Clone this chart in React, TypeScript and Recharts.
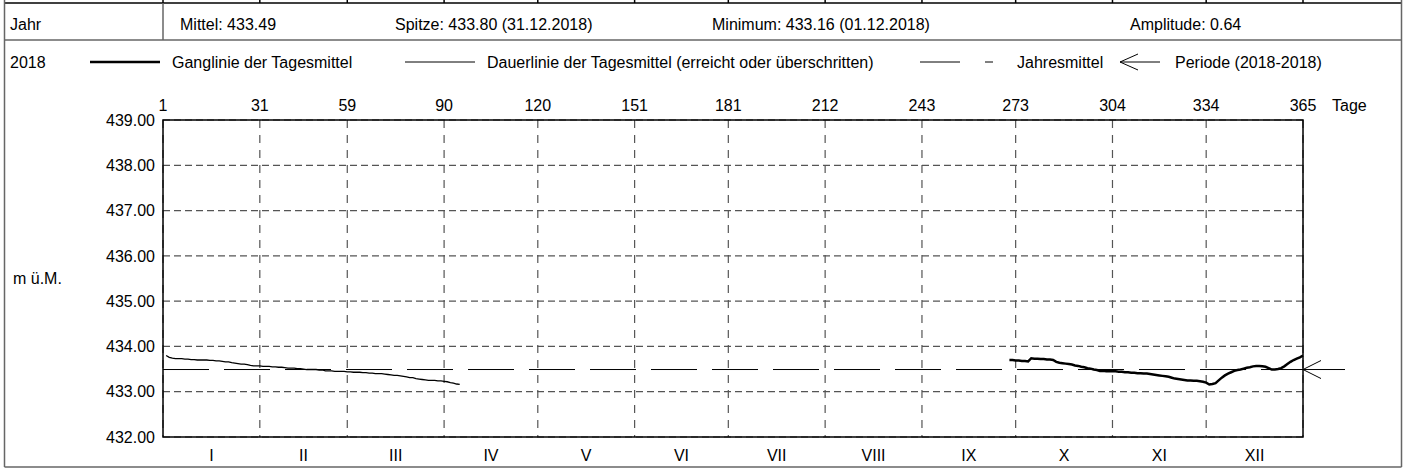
import React from 'react';
import {
  ComposedChart,
  Line,
  XAxis,
  YAxis,
  CartesianGrid,
  ReferenceLine,
  ReferenceArea,
  ReferenceDot,
  Legend,
} from 'recharts';

const FONT = '"Liberation Sans", Arial, sans-serif';

// Tagesmittel 2018 in m ü.M., ab Tag 271 (28.09.) bis Tag 365 (31.12.)
const firstDay = 271;
const tagesmittel = [
  433.70, 433.70, 433.69, 433.69, 433.68, 433.68, 433.67,
  433.74, 433.73, 433.73, 433.72, 433.72, 433.71, 433.71, 433.70,
  433.66, 433.64, 433.63, 433.62, 433.61,
  433.60, 433.58, 433.57, 433.55, 433.54,
  433.52, 433.51, 433.49, 433.48, 433.46,
  433.46, 433.45, 433.45, 433.45, 433.45,
  433.44, 433.44, 433.43, 433.43, 433.42,
  433.42, 433.41, 433.41, 433.40, 433.40,
  433.39, 433.38, 433.37, 433.36, 433.35,
  433.34, 433.33, 433.31, 433.29, 433.28,
  433.27, 433.26, 433.25, 433.25, 433.24,
  433.24, 433.23, 433.22, 433.20, 433.16,
  433.17, 433.19, 433.25, 433.31, 433.36,
  433.40, 433.43, 433.46, 433.48, 433.49,
  433.51, 433.53, 433.54, 433.56, 433.57,
  433.57, 433.56, 433.55, 433.52, 433.49,
  433.49, 433.50, 433.52, 433.56, 433.61,
  433.66, 433.70, 433.73, 433.76, 433.80,
];

const jahresmittel = 433.49;

const monthBounds = [0, 31, 59, 90, 120, 151, 181, 212, 243, 273, 304, 334, 365];
const dayLabels = ['1', '31', '59', '90', '120', '151', '181', '212', '243', '273', '304', '334', '365'];
const monthNames = ['I', 'II', 'III', 'IV', 'V', 'VI', 'VII', 'VIII', 'IX', 'X', 'XI', 'XII'];
const yTicks = [432, 433, 434, 435, 436, 437, 438, 439];

const jahr = '2018';
const statTexts = [
  'Mittel: 433.49',
  'Spitze: 433.80 (31.12.2018)',
  'Minimum: 433.16 (01.12.2018)',
  'Amplitude: 0.64',
];
const legendTexts = [
  'Ganglinie der Tagesmittel',
  'Dauerlinie der Tagesmittel (erreicht oder überschritten)',
  'Jahresmittel',
  'Periode (2018-2018)',
];

const gangData = tagesmittel.map((v, i) => ({ day: firstDay + i, value: v }));
// Dauerlinie: Tageswerte absteigend sortiert
const dauerData = [...tagesmittel]
  .sort((a, b) => b - a)
  .map((v, i) => ({ day: i + 1, value: v }));
const monthMid = monthNames.map((_, i) => (monthBounds[i] + monthBounds[i + 1]) / 2);

const tickStyle = { fill: '#000', fontSize: 16, fontFamily: FONT };

const renderLegend = () => (
  <svg width={1406} height={28} style={{ display: 'block' }}>
    <g fontFamily={FONT} fontSize={16} fill="#000">
      <text x={10} y={20}>{jahr}</text>
      <line x1={90} x2={160} y1={14} y2={14} stroke="#000" strokeWidth={2.5} />
      <text x={172} y={20}>{legendTexts[0]}</text>
      <line x1={405} x2={475} y1={14} y2={14} stroke="#000" strokeWidth={1} />
      <text x={487} y={20}>{legendTexts[1]}</text>
      <line x1={920} x2={960} y1={14} y2={14} stroke="#000" strokeWidth={1} />
      <line x1={985} x2={993} y1={14} y2={14} stroke="#000" strokeWidth={1} />
      <text x={1017} y={20}>{legendTexts[2]}</text>
      <path d="M1160,14 L1120,14 M1138,6 L1120,14 L1138,22" stroke="#000" strokeWidth={1} fill="none" />
      <text x={1175} y={20}>{legendTexts[3]}</text>
    </g>
  </svg>
);

const PeriodArrow = (p: any) => (
  <path
    d={`M${p.cx + 42},${p.cy} L${p.cx},${p.cy} M${p.cx + 18},${p.cy - 9} L${p.cx},${p.cy} L${p.cx + 18},${p.cy + 9}`}
    stroke="#000"
    strokeWidth={1}
    fill="none"
  />
);

const statX = [180, 395, 712, 1130];

export default function App() {
  return (
    <div style={{ position: 'relative', width: 1406, height: 472, fontFamily: FONT, background: '#fff' }}>
      <style>{'body{margin:0}'}</style>
      <ComposedChart width={1406} height={472} margin={{ top: 90, right: 103, bottom: 5, left: 0 }}>
        <CartesianGrid vertical={false} stroke="#555" strokeWidth={1.2} strokeDasharray="7 4" />
        <CartesianGrid horizontal={false} stroke="#555" strokeWidth={1.2} strokeDasharray="8 7" />
        <XAxis
          dataKey="day"
          type="number"
          orientation="top"
          domain={[0, 365]}
          ticks={monthBounds}
          interval={0}
          tickFormatter={(v: number) => dayLabels[monthBounds.indexOf(v)]}
          tick={tickStyle}
          tickSize={0}
          tickMargin={9}
          axisLine={false}
          height={30}
          label={{ value: 'Tage', position: 'right', offset: 29, fill: '#000', fontSize: 16, fontFamily: FONT }}
        />
        <XAxis
          xAxisId="m"
          dataKey="day"
          type="number"
          orientation="bottom"
          domain={[0, 365]}
          allowDataOverflow
          ticks={monthMid}
          interval={0}
          tickFormatter={(v: number) => monthNames[monthMid.indexOf(v)]}
          tick={tickStyle}
          tickSize={0}
          tickMargin={13}
          axisLine={false}
          height={30}
        />
        <YAxis
          type="number"
          domain={[432, 439]}
          ticks={yTicks}
          interval={0}
          tickFormatter={(v: number) => v.toFixed(2)}
          tick={tickStyle}
          tickSize={0}
          tickMargin={8}
          axisLine={false}
          width={163}
          label={{ value: 'm ü.M.', position: 'insideLeft', offset: 13, fill: '#000', fontSize: 16, fontFamily: FONT }}
        />
        <ReferenceArea x1={0} x2={365} y1={432} y2={439} fill="none" stroke="#000" strokeWidth={1.5} />
        <ReferenceLine y={jahresmittel} stroke="#000" strokeWidth={1} strokeDasharray="46 15" />
        <ReferenceDot x={365} y={jahresmittel} ifOverflow="visible" shape={PeriodArrow} />
        {/* unsichtbar, nur damit die Monatsachse Werte hat */}
        <Line
          xAxisId="m"
          data={gangData}
          dataKey="value"
          stroke="none"
          dot={false}
          activeDot={false}
          legendType="none"
          isAnimationActive={false}
        />
        <Line
          data={dauerData}
          dataKey="value"
          type="linear"
          stroke="#000"
          strokeWidth={1.3}
          dot={false}
          activeDot={false}
          isAnimationActive={false}
        />
        <Line
          data={gangData}
          dataKey="value"
          type="linear"
          stroke="#000"
          strokeWidth={2.5}
          dot={false}
          activeDot={false}
          isAnimationActive={false}
        />
        <Legend
          layout="horizontal"
          verticalAlign="middle"
          align="center"
          content={renderLegend}
          wrapperStyle={{ top: 48, left: 0, width: 1406, height: 28 }}
        />
      </ComposedChart>
      <svg
        width={1406}
        height={472}
        style={{ position: 'absolute', top: 0, left: 0, pointerEvents: 'none' }}
      >
        {monthBounds.map((b) => (
          <line key={b} x1={163 + (b / 365) * 1140} x2={163 + (b / 365) * 1140} y1={0} y2={3} stroke="#000" strokeWidth={1.5} />
        ))}
        <line x1={4.5} x2={1401.5} y1={3} y2={3} stroke="#000" strokeWidth={1.5} />
        <line x1={4.5} x2={1401.5} y1={40} y2={40} stroke="#666" strokeWidth={1.5} />
        <line x1={163} x2={163} y1={3} y2={40} stroke="#666" strokeWidth={1.5} />
        <line x1={4.5} x2={4.5} y1={0} y2={467} stroke="#666" strokeWidth={1.5} />
        <line x1={1401.5} x2={1401.5} y1={0} y2={467} stroke="#666" strokeWidth={1.5} />
        <line x1={4.5} x2={1401.5} y1={467} y2={467} stroke="#666" strokeWidth={1.5} />
        <g fontFamily={FONT} fontSize={16} fill="#000">
          <text x={10} y={30}>Jahr</text>
          {statTexts.map((t, i) => (
            <text key={t} x={statX[i]} y={30}>{t}</text>
          ))}
        </g>
      </svg>
    </div>
  );
}
